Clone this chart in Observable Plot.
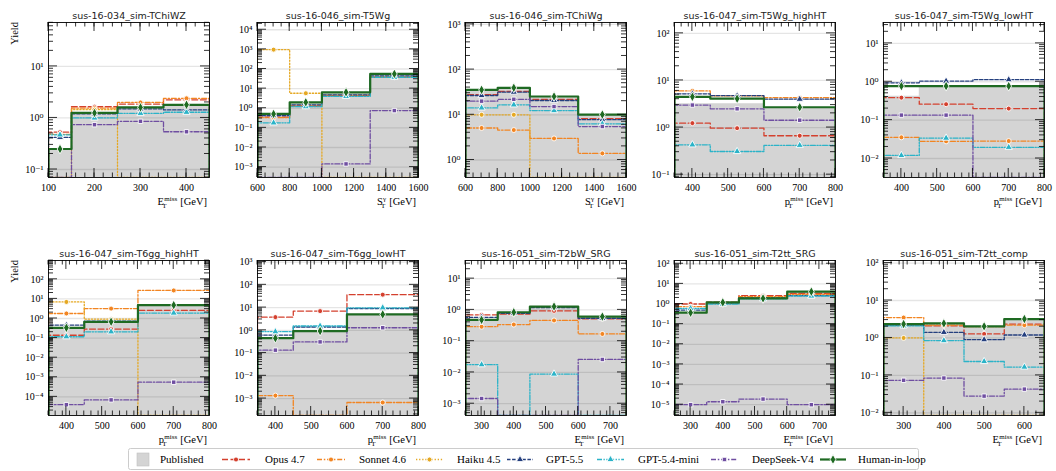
<!DOCTYPE html>
<html><head><meta charset="utf-8">
<script src="https://cdn.jsdelivr.net/npm/d3@7"></script>
<script src="https://cdn.jsdelivr.net/npm/@observablehq/plot@0.6"></script>
<style>
html,body{margin:0;padding:0;background:#fff;}
#root{position:relative;width:1056px;height:471px;overflow:hidden;background:#fff;}
</style></head><body><div id="root"></div>
<script>
// ---------------- data ----------------
const titles = ["sus-16-034_sim-TChiWZ","sus-16-046_sim-T5Wg","sus-16-046_sim-TChiWg","sus-16-047_sim-T5Wg_highHT","sus-16-047_sim-T5Wg_lowHT",
  "sus-16-047_sim-T6gg_highHT","sus-16-047_sim-T6gg_lowHT","sus-16-051_sim-T2bW_SRG","sus-16-051_sim-T2tt_SRG","sus-16-051_sim-T2tt_comp"];
const binEdges = [[100,150,250,350,450],[600,800,1000,1300,1600],[600,800,1000,1300,1600],[350,450,600,800],[350,450,600,800],
  [350,450,600,800],[350,450,600,800],[250,350,450,600,750],[250,350,450,600,750],[250,350,450,550,650]];
const yLimits = [[0.07,71],[2.95e-4,2.34e4],[0.41,1100],[0.087,170],[0.0032,35],[1.12e-5,912],[1.8e-4,1175],[4.2e-4,38],[2.9e-6,145],[0.0085,117]];
const xTickValues = [[100,200,300,400],[600,800,1000,1200,1400,1600],[600,800,1000,1200,1400,1600],[400,500,600,700,800],[400,500,600,700,800],
  [400,500,600,700,800],[400,500,600,700,800],[300,400,500,600,700],[300,400,500,600,700],[300,400,500,600]];
const xMinorStep = [20,50,50,20,20,20,20,20,20,20];
const xVar = ["E","S","S","p","p","p","p","E","E","E"];
const xSup = ["miss","γ","γ","miss","miss","miss","miss","miss","miss","miss"];

const published = [[0.25,1.25,1.6,1.8],[0.42,1.7,5.4,48],[34,37,25,10],[3.2,3.2,2.6],[0.42,0.77,0.77],
  [0.3,0.62,4.5],[0.45,0.93,5.0],[0.47,0.82,1.25,0.6],[0.36,1.15,1.85,3.9],[2.3,2.35,2.0,3.0]];
const opus = [[0.53,1.65,1.86,2.25],[0.35,1.26,4.4,38],[28,33,22,8.2],[1.24,0.97,0.67],[0.385,0.26,0.2],
  [0.14,0.29,2.6],[3.8,7.0,37],[0.69,0.73,0.93,0.52],[1.0,1.25,2.6,3.4],[2.4,2.1,1.28,2.35]];
const sonnet = [[0.48,1.55,2.0,2.4],[0.33,1.3,4.5,40],[5.1,4.6,3.0,1.4],[6.0,4.7,4.3],[0.0356,0.028,0.0285],
  [1.8,3.2,27],[0.00135,0,0.00067],[0.29,0.34,0.46,0.17],[0.74,1.1,2.3,3.0],[3.5,2.2,2.0,2.2]];
const haiku = [[0,1.45,0,0],[970,5.8,0,0],[10,10,0,0],null,null,
  [7.0,0.92,0],null,null,null,[1.0,0,0,0]];
const gpt55 = [[0.42,1.2,1.5,1.43],[0.42,1.5,4.8,45],[26.7,31.7,20.7,7.8],[5.2,4.75,4.0],[0.94,1.04,1.13],
  [0.46,0.73,5.1],[0.62,1.4,9.0],[0.58,0.78,1.19,0.54],[0.5,1.1,2.0,2.6],[2.2,1.41,0.9,1.2]];
const gpt54mini = [[0.47,1.0,1.23,1.29],[0.18,1.2,4.0,38],[14.2,16.6,12.4,6.3],[0.43,0.31,0.42],[0.012,0.034,0.0196],
  [0.117,0.21,1.9],[0.87,1.55,9.8],[0.0177,0,0.0089,0],[0.6,1.0,1.8,2.5],[2.1,0.85,0.235,0.167]];
const deepseek = [[0,0.74,0.86,0.54],[0,0,0.00145,0.76],[20,22,15.2,5.5],[3.0,2.5,1.43],[0.135,0.135,0],
  [4e-5,7e-5,5.6e-4],[0.134,0.31,1.3],[0.00147,0,0,0.026],[1e-5,1.4e-5,1.9e-5,1e-5],[0.074,0.085,0.028,0.043]];
const human = [[0.25,1.25,1.6,1.8],[0.51,2.0,6.5,56],[35.6,39.5,25.4,10.1],[4.5,4.1,2.7],[0.77,0.77,0.77],
  [0.335,0.68,4.8],[0.45,0.93,5.0],[0.48,0.84,1.28,0.61],[0.37,1.2,1.9,4.1],[2.35,2.45,2.04,3.2]];

// ---------------- style ----------------
const SERIF = "'Liberation Serif', 'DejaVu Serif', serif";
const SANS = "'DejaVu Sans', sans-serif";
const PUB = "#d4d4d4";
const series = [
  {name:"Opus 4.7", values:opus, color:"#d4402e", dash:"6,2.5", symbol:"circle", r:2.5, width:1.3},
  {name:"Sonnet 4.6", values:sonnet, color:"#f28522", dash:"5,1.8,1.5,1.8", symbol:"circle", r:2.5, width:1.3},
  {name:"Haiku 4.5", values:haiku, color:"#e5a823", dash:"1.3,1.8", symbol:"circle", r:2.5, width:1.3},
  {name:"GPT-5.5", values:gpt55, color:"#243f7e", dash:"3.5,1.6", symbol:"triangle", r:2.7, width:1.3},
  {name:"GPT-5.4-mini", values:gpt54mini, color:"#2bb3c8", dash:"5,1.5,1.3,1.5,1.3,1.5", symbol:"triangle", r:2.7, width:1.3},
  {name:"DeepSeek-V4", values:deepseek, color:"#6f4ea1", dash:"5,1.8,1.5,1.8", symbol:"square", r:2.5, width:1.3},
  {name:"Human-in-loop", values:human, color:"#1e6a22", dash:null, symbol:"diamond", r:3.0, width:2.2}
];

const FL = [48, 257, 465, 674, 883];
const FT = [22, 260];
const FW = 161, FH = 155;
const ML = 44, MR = 8, MT = 22, MB = 40;
const BASE = 1e-30;
const supMap = {"-":"⁻","0":"⁰","1":"¹","2":"²","3":"³","4":"⁴","5":"⁵","6":"⁶","7":"⁷","8":"⁸","9":"⁹"};
const sup = s => s.replace(/[-0-9]/g, c => supMap[c]);

function stairs(e, v, closed) {
  const pts = [];
  v.forEach((val, i) => { const y = val > 0 ? val : BASE; pts.push({x: e[i], y}, {x: e[i + 1], y}); });
  if (closed) { pts.unshift({x: e[0], y: BASE}); pts.push({x: e[e.length - 1], y: BASE}); }
  return pts;
}

const root = document.getElementById("root");

for (let p = 0; p < 10; p++) {
  const row = Math.floor(p / 5), col = p % 5;
  const e = binEdges[p];
  const [lo, hi] = yLimits[p];
  const x0 = e[0], x1 = e[e.length - 1];
  const yMaj = [], yMin = [];
  for (let d = Math.floor(Math.log10(lo)); d <= Math.ceil(Math.log10(hi)); d++) {
    const v = Math.pow(10, d);
    if (v >= lo && v <= hi) yMaj.push(v);
    for (let k = 2; k <= 9; k++) { const m = k * v; if (m >= lo && m <= hi) yMin.push(m); }
  }
  const xMaj = xTickValues[p];
  const xMin = d3.range(x0, x1 + 1e-9, xMinorStep[p]);

  const marks = [];
  marks.push(Plot.areaY(stairs(e, published[p], false), {x: "x", y1: () => lo, y2: "y", fill: PUB, curve: "linear"}));
  marks.push(Plot.ruleY(yMaj, {stroke: "#000", strokeOpacity: 0.1, strokeWidth: 1.3}));
  for (const s of series) {
    const v = s.values[p];
    if (!v) continue;
    marks.push(Plot.line(stairs(e, v, true), {x: "x", y: "y", stroke: s.color, strokeWidth: s.width,
      strokeDasharray: s.dash || undefined, clip: "frame"}));
    const pts = v.map((val, i) => ({x: (e[i] + e[i + 1]) / 2, y: val})).filter(d => d.y > 0);
    marks.push(Plot.dot(pts, {x: "x", y: "y", symbol: s.symbol, r: s.r, fill: s.color, stroke: "white", strokeWidth: 0.9}));
  }
  marks.push(Plot.axisX({ticks: xMaj, tickSize: 0, tickPadding: 6, tickFormat: d => String(d), label: null, fontSize: 10}));
  marks.push(Plot.axisY({ticks: yMaj, tickSize: 0, tickPadding: 5, label: null, fontSize: 10,
    tickFormat: d => "10" + sup(String(Math.round(Math.log10(d))))}));
  marks.push(Plot.frame({stroke: "black", strokeWidth: 0.9}));
  marks.push(Plot.text([titles[p]], {frameAnchor: "top", dy: -10, fontFamily: SANS, fontSize: 9.5, fill: "#222"}));

  const el = Plot.plot({
    width: ML + FW + MR, height: MT + FH + MB,
    marginLeft: ML, marginRight: MR, marginTop: MT, marginBottom: MB,
    x: {type: "linear", domain: [x0, x1]},
    y: {type: "log", domain: [lo, hi], clamp: true},
    style: {fontFamily: SERIF, fontSize: "10px", background: "transparent", overflow: "visible", color: "black"},
    marks
  });
  el.style.position = "absolute";
  el.style.left = (FL[col] - ML) + "px";
  el.style.top = (FT[row] - MT) + "px";
  root.appendChild(el);

  const svg = d3.select(el);
  // inward ticks on all four sides, positioned with the plot's own scales
  const xs = el.scale("x"), ys = el.scale("y");
  const top = MT, bot = MT + FH, left = ML, right = ML + FW;
  const tg = svg.append("g").attr("stroke", "black").attr("stroke-width", 0.8);
  const addX = (vals, len) => vals.forEach(v => {
    const x = xs.apply(v);
    tg.append("line").attr("x1", x).attr("x2", x).attr("y1", bot).attr("y2", bot - len);
    tg.append("line").attr("x1", x).attr("x2", x).attr("y1", top).attr("y2", top + len);
  });
  const addY = (vals, len) => vals.forEach(v => {
    const y = ys.apply(v);
    tg.append("line").attr("x1", left).attr("x2", left + len).attr("y1", y).attr("y2", y);
    tg.append("line").attr("x1", right).attr("x2", right - len).attr("y1", y).attr("y2", y);
  });
  addX(xMin, 4.5); addX(xMaj, 9); addY(yMin, 5); addY(yMaj, 9);

  // x-axis label with stacked sub/superscript
  const yb = MT + FH + 28;
  const xr = ML + FW - 2;
  const g = svg.append("g").attr("font-family", SERIF).attr("fill", "black");
  const tG = g.append("text").attr("x", xr).attr("y", yb).attr("text-anchor", "end").attr("font-size", 10.5).text("[GeV]");
  const wG = tG.node().getComputedTextLength();
  const sx = xr - wG - 3;
  const tS = g.append("text").attr("x", sx).attr("y", yb - 4.5).attr("text-anchor", "end").attr("font-size", 7).text(xSup[p]);
  const ws = tS.node().getComputedTextLength();
  g.append("text").attr("x", sx - ws).attr("y", yb + 2.5).attr("font-size", 7).text("T");
  g.append("text").attr("x", sx - ws - 0.3).attr("y", yb).attr("text-anchor", "end").attr("font-size", 10.5).text(xVar[p]);
  if (col === 0) {
    g.append("text").attr("transform", `translate(${ML - 30},${MT}) rotate(-90)`)
      .attr("text-anchor", "end").attr("font-size", 10.5).text("Yield");
  }
}

// ---------------- legend ----------------
const lg = d3.select(root).append("svg").attr("width", 1056).attr("height", 471)
  .style("position", "absolute").style("left", "0px").style("top", "0px").style("pointer-events", "none");
lg.append("rect").attr("x", 128.5).attr("y", 448.5).attr("width", 790).attr("height", 21).attr("rx", 2)
  .attr("fill", "white").attr("stroke", "#cccccc");
const LY = 459.5;
lg.append("rect").attr("x", 137).attr("y", 453).attr("width", 12).attr("height", 13).attr("fill", PUB).attr("stroke", "#c0c0c0").attr("stroke-width", 0.6);
lg.append("text").attr("x", 160).attr("y", LY).attr("dy", "0.35em").attr("font-family", SERIF).attr("font-size", 11).text("Published");
const legX = [[222, 250, 265], [317, 345, 359], [416, 443, 457], [507, 533, 546], [597, 624, 638], [711, 738, 752], [820, 846, 858]];
const symMap = {circle: d3.symbolCircle, triangle: d3.symbolTriangle, square: d3.symbolSquare, diamond: d3.symbolDiamond};
series.forEach((s, i) => {
  const [a, b, t] = legX[i];
  lg.append("line").attr("x1", a).attr("x2", b).attr("y1", LY).attr("y2", LY).attr("stroke", s.color)
    .attr("stroke-width", s.width).attr("stroke-dasharray", s.dash || null);
  lg.append("path").attr("transform", `translate(${(a + b) / 2},${LY})`)
    .attr("d", d3.symbol(symMap[s.symbol], Math.PI * s.r * s.r)())
    .attr("fill", s.color).attr("stroke", "white").attr("stroke-width", 0.9);
  lg.append("text").attr("x", t).attr("y", LY).attr("dy", "0.35em").attr("font-family", SERIF).attr("font-size", 11).text(s.name);
});
</script></body></html>
